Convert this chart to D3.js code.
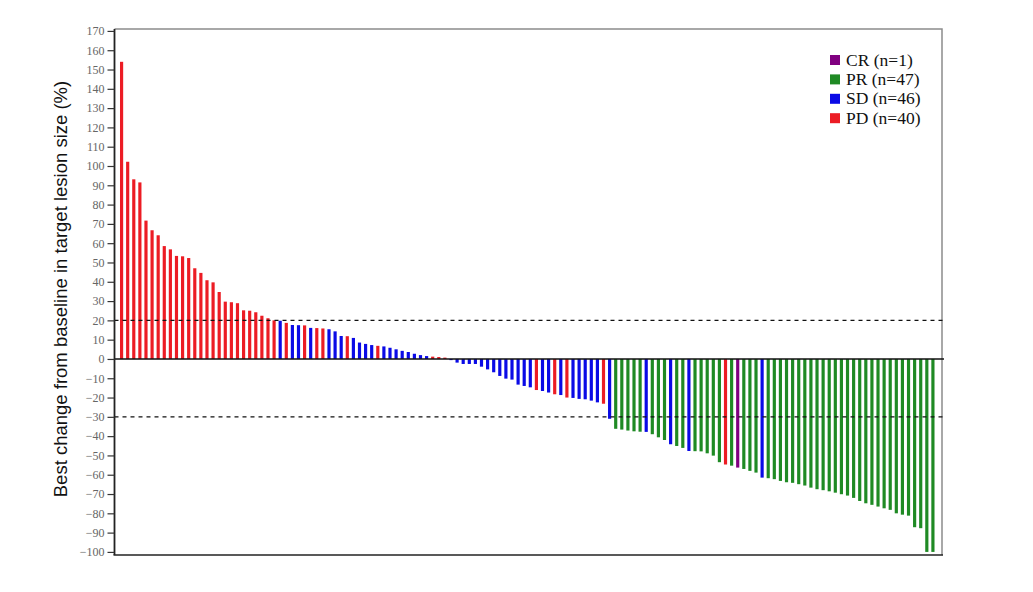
<!DOCTYPE html>
<html>
<head>
<meta charset="utf-8">
<script src="https://cdn.jsdelivr.net/npm/d3@7"></script>
<style>
  html, body { margin: 0; padding: 0; background: #ffffff; }
  svg { display: block; }
</style>
</head>
<body>
<svg id="chart" width="1033" height="592"></svg>
<script>
// ---------------- DATA ----------------
const bestChange = [
  154.0, 102.2, 93.1, 91.5, 71.7, 66.7, 64.1, 58.5, 56.8, 53.4,
  53.2, 52.3, 47.0, 44.6, 40.8, 39.7, 34.7, 29.7, 29.4, 28.9,
  25.2, 25.0, 24.2, 22.4, 21.1, 20.0, 19.8, 18.7, 17.6, 17.5,
  17.4, 16.1, 16.0, 15.8, 15.4, 14.3, 11.9, 11.8, 10.9, 8.5,
  7.8, 7.2, 6.8, 6.5, 5.8, 5.0, 4.2, 3.6, 2.7, 2.0,
  1.5, 1.2, 1.0, 0.7, -0.6, -1.9, -2.6, -2.6, -2.6, -4.0,
  -5.4, -6.9, -8.8, -10.2, -10.7, -13.3, -14.0, -14.7, -16.1, -16.6,
  -17.4, -18.3, -18.7, -20.0, -20.2, -20.7, -20.9, -21.6, -22.5, -23.2,
  -31.0, -36.2, -36.6, -37.1, -37.5, -37.7, -37.8, -39.0, -40.6, -42.0,
  -44.2, -45.1, -46.1, -47.7, -47.8, -47.9, -48.9, -50.1, -53.5, -54.7,
  -55.3, -56.3, -57.0, -58.0, -58.9, -61.5, -61.8, -62.3, -63.2, -63.9,
  -64.2, -64.9, -65.6, -66.7, -67.5, -68.0, -68.6, -69.3, -70.1, -70.8,
  -72.0, -73.6, -74.8, -75.6, -76.5, -77.4, -78.2, -80.0, -80.7, -81.2,
  -87.2, -87.7, -100, -100
];

const response = [
  "PD","PD","PD","PD","PD","PD","PD","PD","PD","PD",
  "PD","PD","PD","PD","PD","PD","PD","PD","PD","PD",
  "PD","PD","PD","PD","PD","PD","SD","PD","SD","SD",
  "PD","SD","PD","PD","SD","SD","SD","PD","SD","SD",
  "SD","SD","PD","SD","SD","SD","SD","SD","SD","SD",
  "SD","PD","PD","PD","SD","SD","SD","SD","SD","SD",
  "SD","SD","SD","SD","SD","SD","SD","SD","PD","SD",
  "SD","PD","SD","PD","SD","SD","SD","SD","SD","PD",
  "SD","PR","PR","PR","PR","PR","SD","PR","PR","PR",
  "SD","PR","PR","SD","PR","PR","PR","PR","PR","PD",
  "PR","CR","PR","PR","PR","SD","PR","PR","PR","PR",
  "PR","PR","PR","PR","PR","PR","PR","PR","PR","PR",
  "PR","PR","PR","PR","PR","PR","PR","PR","PR","PR",
  "PR","PR","PR","PR"
];

const categories = ["CR", "PR", "SD", "PD"];
const legendLabels = ["CR (n=1)", "PR (n=47)", "SD (n=46)", "PD (n=40)"];
const categoryColors = ["#800080", "#1f8a24", "#0a0ae6", "#ec1c24"];

const yTickValues = [170,160,150,140,130,120,110,100,90,80,70,60,50,40,30,20,10,0,
                     -10,-20,-30,-40,-50,-60,-70,-80,-90,-100];
const referenceLines = [20, -30];
const yDomain = [-101.6, 171];
const yTitle = "Best change from baseline in target lesion size  (%)";

// ---------------- LAYOUT ----------------
const mLeft = 114.5, mRight = 942, mTop = 29, mBottom = 555;

const svg = d3.select("#chart");

const y = d3.scaleLinear().domain(yDomain).range([mBottom, mTop]);
const x = d3.scaleBand()
  .domain(d3.range(bestChange.length))
  .range([mLeft, 940])
  .paddingInner(0.48)
  .paddingOuter(0.9);
const color = d3.scaleOrdinal().domain(categories).range(categoryColors);

// frame (top + right, gray)
svg.append("path")
  .attr("d", `M${mLeft},${y(yDomain[1])}H${mRight}V${y(yDomain[0])}`)
  .attr("fill", "none")
  .attr("stroke", "#8c8c8c")
  .attr("stroke-width", 1.5);

// bars
svg.append("g")
  .selectAll("rect")
  .data(bestChange)
  .join("rect")
  .attr("x", (d, i) => x(i))
  .attr("width", x.bandwidth())
  .attr("y", d => y(Math.max(0, d)))
  .attr("height", d => Math.abs(y(d) - y(0)))
  .attr("fill", (d, i) => color(response[i]));

// reference dashed lines
svg.append("g")
  .selectAll("line")
  .data(referenceLines)
  .join("line")
  .attr("x1", mLeft)
  .attr("x2", mRight + 4)
  .attr("y1", d => y(d))
  .attr("y2", d => y(d))
  .attr("stroke", "#111")
  .attr("stroke-width", 1.1)
  .attr("stroke-dasharray", "4,4");

// zero line
svg.append("line")
  .attr("x1", mLeft).attr("x2", mRight + 2)
  .attr("y1", y(0)).attr("y2", y(0))
  .attr("stroke", "#111").attr("stroke-width", 1.5);

// bottom line
svg.append("line")
  .attr("x1", mLeft - 1).attr("x2", mRight + 1)
  .attr("y1", y(yDomain[0])).attr("y2", y(yDomain[0]))
  .attr("stroke", "#222").attr("stroke-width", 1.5);

// y axis
const yAxis = d3.axisLeft(y)
  .tickValues(yTickValues)
  .tickSize(7)
  .tickPadding(3)
  .tickSizeOuter(0);

const gy = svg.append("g")
  .attr("transform", `translate(${mLeft},0)`)
  .call(yAxis);
gy.select(".domain")
  .attr("d", `M0,${y(yDomain[1])}V${y(yDomain[0])}`)
  .attr("stroke", "#222").attr("stroke-width", 1.8);
gy.selectAll(".tick line").attr("stroke", "#333").attr("stroke-width", 1.2);
gy.selectAll(".tick text")
  .attr("font-family", "'Liberation Serif', 'DejaVu Serif', serif")
  .attr("font-size", 12)
  .attr("fill", "#666");

// y title
svg.append("text")
  .attr("transform", `translate(67,289) rotate(-90)`)
  .attr("text-anchor", "middle")
  .attr("font-family", "'Liberation Sans', Arial, sans-serif")
  .attr("font-size", 18.5)
  .attr("fill", "#111")
  .text(yTitle);

// legend
const legend = svg.append("g").attr("transform", "translate(830,56)");
const items = legend.selectAll("g")
  .data(categories)
  .join("g")
  .attr("transform", (d, i) => `translate(0,${i * 19.4})`);
items.append("rect")
  .attr("x", 0).attr("y", -1)
  .attr("width", 10).attr("height", 10)
  .attr("fill", d => color(d));
items.append("text")
  .attr("x", 16).attr("y", 9.5)
  .attr("font-family", "'Liberation Serif', 'Times New Roman', serif")
  .attr("font-size", 17.5)
  .attr("fill", "#111")
  .text((d, i) => legendLabels[i]);
</script>
</body>
</html>
